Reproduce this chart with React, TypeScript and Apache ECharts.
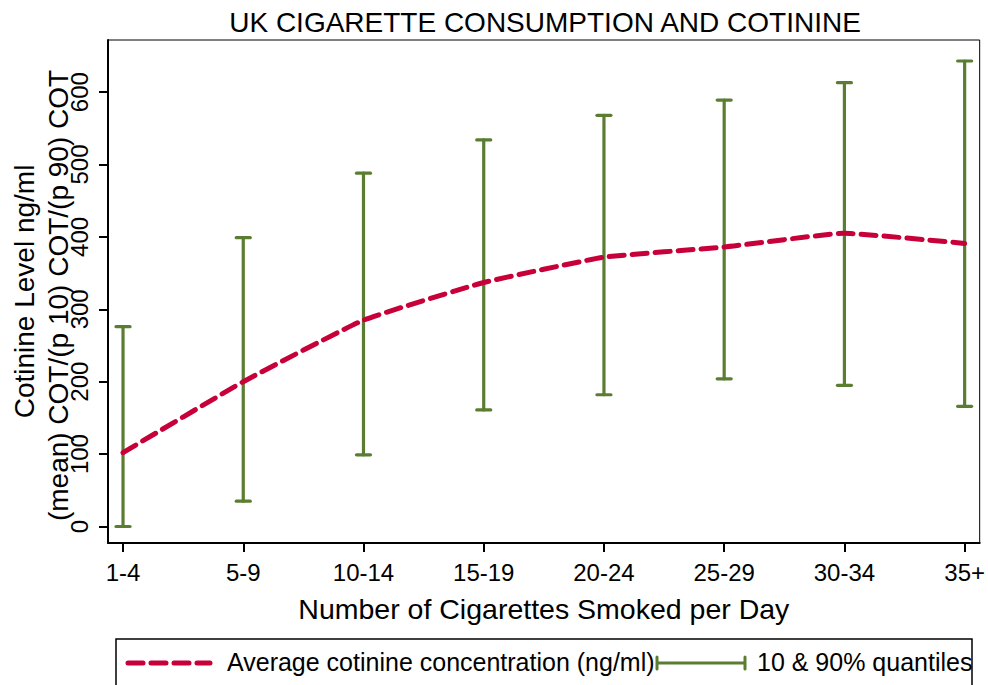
import React, { useEffect, useRef } from "react";
import * as echarts from "echarts";

// Cigarettes smoked per day (grouped)
const categories = ["1-4", "5-9", "10-14", "15-19", "20-24", "25-29", "30-34", "35+"];
// Mean cotinine concentration (ng/ml) per group
const meanCotinine = [102, 200, 285, 337, 372, 386, 405, 391];
// 10th and 90th percentile of cotinine per group
const p10Cotinine = [0, 35, 99, 161, 182, 204, 195, 166];
const p90Cotinine = [276, 399, 488, 534, 568, 589, 613, 643];
// Y-axis tick values
const yTicks = [0, 100, 200, 300, 400, 500, 600];

const FONT = "'Liberation Sans', Arial, Helvetica, sans-serif";
const RED = "#c8003a";
const GREEN = "#5b7d31";

export default function App() {
  const ref = useRef<HTMLDivElement>(null);

  useEffect(() => {
    if (!ref.current) return;
    const chart = echarts.init(ref.current, null, { renderer: "svg" });

    const gridLeft = 108;
    const gridRight = 980;
    const gridTop = 40;
    const gridBottom = 543;
    const midY = (gridTop + gridBottom) / 2;

    const meanData = meanCotinine.map((v, i) => [i, v]);
    const rangeData = categories.map((_, i) => [i, p10Cotinine[i], p90Cotinine[i]]);

    const option: any = {
      animation: false,
      backgroundColor: "#ffffff",
      textStyle: { fontFamily: FONT },
      title: {
        text: "UK CIGARETTE CONSUMPTION AND COTININE",
        left: (gridLeft + gridRight) / 2 - 4,
        textAlign: "center",
        top: 3,
        textStyle: { fontFamily: FONT, fontSize: 28, fontWeight: "normal", color: "#000" },
      },
      grid: {
        left: gridLeft,
        right: 988 - gridRight,
        top: gridTop,
        bottom: 685 - gridBottom,
        show: true,
        borderColor: "#000",
        borderWidth: 1,
        backgroundColor: "#fff",
      },
      xAxis: {
        type: "value",
        min: -0.125,
        max: 7.125,
        splitLine: { show: false },
        axisLine: { show: true, onZero: false, lineStyle: { color: "#000", width: 2 } },
        axisTick: {
          show: true,
          length: 9,
          customValues: categories.map((_, i) => i),
          lineStyle: { color: "#000", width: 2 },
        },
        axisLabel: {
          customValues: categories.map((_, i) => i),
          formatter: (v: number) => categories[Math.round(v)] ?? "",
          fontFamily: FONT,
          fontSize: 24,
          color: "#000",
          margin: 17,
        },
        name: "Number of Cigarettes Smoked per Day",
        nameLocation: "middle",
        nameGap: 51,
        nameTextStyle: { fontFamily: FONT, fontSize: 28.5, color: "#000" },
      },
      yAxis: {
        type: "value",
        min: -22.8,
        max: 672,
        splitLine: { show: false },
        axisLine: { show: true, onZero: false, lineStyle: { color: "#000", width: 2 } },
        axisTick: {
          show: true,
          length: 9,
          customValues: yTicks,
          lineStyle: { color: "#000", width: 2 },
        },
        axisLabel: {
          customValues: yTicks,
          rotate: 90,
          fontFamily: FONT,
          fontSize: 24,
          color: "#000",
          margin: 17,
        },
      },
      graphic: [
        // Y-axis title, two lines, reading bottom to top
        {
          type: "text",
          x: 24,
          y: midY,
          rotation: Math.PI / 2,
          style: {
            text: "Cotinine Level ng/ml",
            fontFamily: FONT,
            fontSize: 28,
            fill: "#000",
            align: "center",
            verticalAlign: "middle",
          },
        },
        {
          type: "text",
          x: 58,
          y: midY + 4,
          rotation: Math.PI / 2,
          style: {
            text: "(mean) COT/(p 10) COT/(p 90) COT",
            fontFamily: FONT,
            fontSize: 28,
            fill: "#000",
            align: "center",
            verticalAlign: "middle",
          },
        },
        // Legend box
        {
          type: "rect",
          shape: { x: 116, y: 639, width: 856, height: 60 },
          style: { fill: "#fff", stroke: "#000", lineWidth: 1.5 },
          z: 10,
        },
        {
          type: "line",
          shape: { x1: 128, y1: 663, x2: 210, y2: 663 },
          style: { stroke: RED, lineWidth: 5, lineDash: [15, 8], lineCap: "round" },
          z: 11,
        },
        {
          type: "text",
          x: 227,
          y: 662,
          style: {
            text: "Average cotinine concentration (ng/ml)",
            fontFamily: FONT,
            fontSize: 25,
            fill: "#000",
            align: "left",
            verticalAlign: "middle",
          },
          z: 11,
        },
        {
          type: "line",
          shape: { x1: 657, y1: 663, x2: 745, y2: 663 },
          style: { stroke: GREEN, lineWidth: 3 },
          z: 11,
        },
        {
          type: "line",
          shape: { x1: 657, y1: 657, x2: 657, y2: 669 },
          style: { stroke: GREEN, lineWidth: 3, lineCap: "round" },
          z: 11,
        },
        {
          type: "line",
          shape: { x1: 745, y1: 657, x2: 745, y2: 669 },
          style: { stroke: GREEN, lineWidth: 3, lineCap: "round" },
          z: 11,
        },
        {
          type: "text",
          x: 757,
          y: 662,
          style: {
            text: "10 & 90% quantiles",
            fontFamily: FONT,
            fontSize: 25,
            fill: "#000",
            align: "left",
            verticalAlign: "middle",
          },
          z: 11,
        },
      ],
      series: [
        {
          name: "Average cotinine concentration (ng/ml)",
          type: "line",
          data: meanData,
          smooth: 0.12,
          showSymbol: false,
          symbol: "none",
          z: 3,
          lineStyle: { color: RED, width: 5, type: [15, 8], cap: "round" },
        },
        {
          name: "10 & 90% quantiles",
          type: "custom",
          data: rangeData,
          z: 2,
          clip: false,
          encode: { x: 0, y: [1, 2] },
          renderItem: (params: any, api: any) => {
            const x = api.value(0);
            const lo = api.coord([x, api.value(1)]);
            const hi = api.coord([x, api.value(2)]);
            const half = 7;
            const style = { stroke: GREEN, lineWidth: 3.2, lineCap: "round" };
            return {
              type: "group",
              children: [
                { type: "line", shape: { x1: lo[0], y1: lo[1], x2: hi[0], y2: hi[1] }, style },
                { type: "line", shape: { x1: lo[0] - half, y1: lo[1], x2: lo[0] + half, y2: lo[1] }, style },
                { type: "line", shape: { x1: hi[0] - half, y1: hi[1], x2: hi[0] + half, y2: hi[1] }, style },
              ],
            };
          },
        },
      ],
    };

    chart.setOption(option);
    return () => chart.dispose();
  }, []);

  return (
    <div
      ref={ref}
      style={{ position: "fixed", left: 0, top: 0, width: 988, height: 685, background: "#fff" }}
    />
  );
}
